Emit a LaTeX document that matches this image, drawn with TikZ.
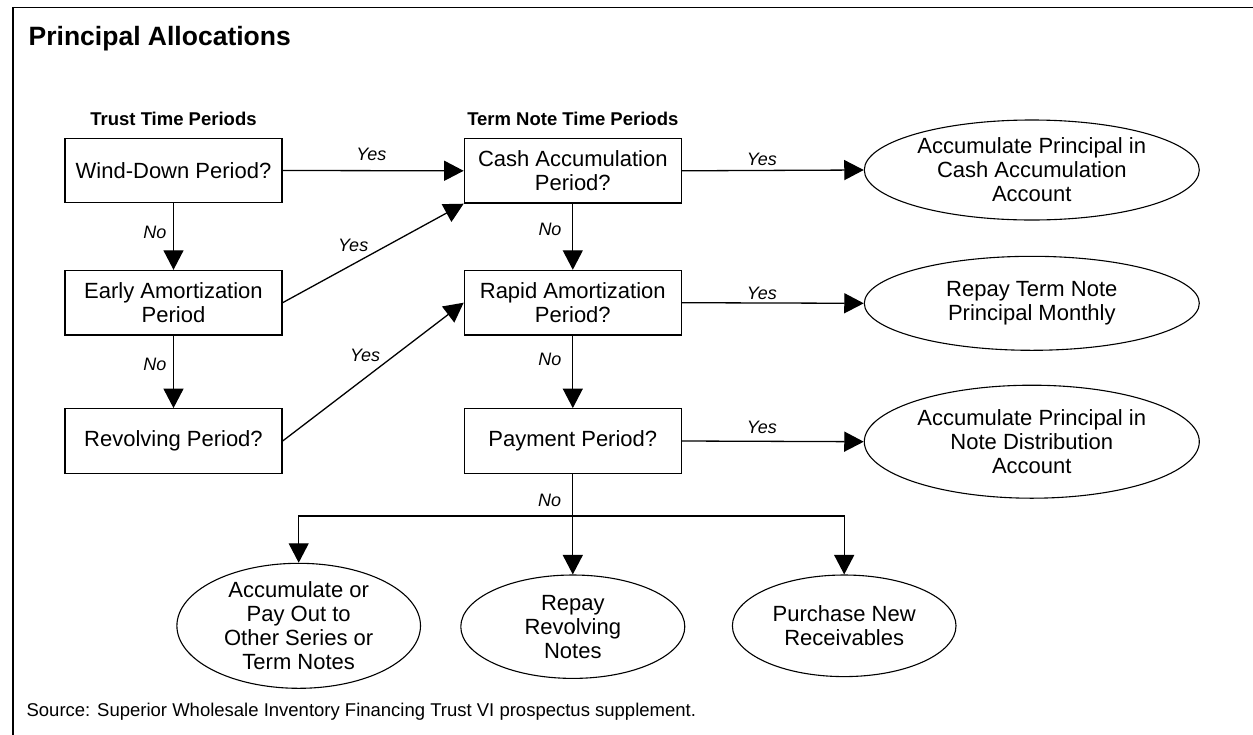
\documentclass[tikz,border=0pt]{standalone}
\usepackage{fontspec}
\setmainfont{Liberation Sans}
\usetikzlibrary{arrows.meta,shapes.geometric}
\begin{document}
\begin{tikzpicture}[x=1pt,y=-1pt,
  box/.style={draw, line width=1.3pt, minimum width=217pt, minimum height=64.5pt, align=center, inner sep=0pt, font=\fontsize{22}{24}\selectfont},
  oval/.style={draw, ellipse, line width=1.1pt, inner sep=-4pt, align=center, font=\fontsize{22}{24}\selectfont},
  arr/.style={line width=1.3pt, -{Triangle[length=19.5pt,width=20pt]}},
  lbl/.style={font=\fontsize{18}{20}\selectfont\itshape, inner sep=0pt, anchor=base},
  head/.style={font=\fontsize{18.5}{20}\selectfont\bfseries, inner sep=0pt, anchor=base}
]
\useasboundingbox (0,0) rectangle (1253,734);
\draw[line width=1.3pt] (13,745) -- (13,7.5) -- (1265,7.5);

\node[font=\fontsize{26.5}{28}\selectfont\bfseries, inner sep=0pt, anchor=base west] (title) at (28.5,45.3) {Principal Allocations};
\node[head] (h1) at (173.5,125) {Trust Time Periods};
\node[head] (h2) at (572.8,125) {Term Note Time Periods};

\node[box] (wind)  at (173.5,170.5) {Wind-Down Period?};
\node[box] (early) at (173.5,302.7) {Early Amortization\\Period};
\node[box] (revol) at (173.5,441)   {Revolving Period?};

\node[box] (cash)  at (572.8,170.8) {Cash Accumulation\\Period?};
\node[box] (rapid) at (572.8,302.7) {Rapid Amortization\\Period?};
\node[box] (pay)   at (572.8,441)   {Payment Period?};

\node[oval, minimum width=335pt, minimum height=100pt] (e1) at (1031.8,170) {Accumulate Principal in\\Cash Accumulation\\Account};
\node[oval, minimum width=335pt, minimum height=94pt]  (e2) at (1031.8,303.3) {Repay Term Note\\Principal Monthly};
\node[oval, minimum width=335pt, minimum height=113pt] (e3) at (1031.8,441.7) {Accumulate Principal in\\Note Distribution\\Account};

\node[oval, minimum width=243.6pt, minimum height=125pt] (b1) at (298.7,625.8) {Accumulate or\\Pay Out to\\Other Series or\\Term Notes};
\node[oval, minimum width=224pt, minimum height=103.4pt] (b2) at (572.8,626.7) {Repay\\Revolving\\Notes};
\node[oval, minimum width=223.6pt, minimum height=101.6pt] (b3) at (844.2,625.8) {Purchase New\\Receivables};

\coordinate (split) at (572.8,516);

\draw[arr] (wind.east) -- node[lbl, pos=0.49, yshift=10.3pt] {Yes} (cash.west);
\draw[arr] (wind.south) -- node[lbl, pos=0.536, xshift=-18.7pt] {No} (early.north);
\draw[arr] (early.east) -- node[lbl, pos=0.39, yshift=12.7pt] {Yes} (cash.south west);
\draw[arr] (early.south) -- node[lbl, pos=0.475, xshift=-18.7pt] {No} (revol.north);
\draw[arr] (revol.east) -- node[lbl, pos=0.456, yshift=16.2pt] {Yes} (rapid.west);

\draw[arr] (cash.east) -- node[lbl, pos=0.44, yshift=5pt] {Yes} (e1.west);
\draw[arr] (cash.south) -- node[lbl, pos=0.476, xshift=-22.8pt] {No} (rapid.north);
\draw[arr] (rapid.east) -- node[lbl, pos=0.44, yshift=3.5pt] {Yes} (e2.west);
\draw[arr] (rapid.south) -- node[lbl, pos=0.419, xshift=-23pt] {No} (pay.north);
\draw[arr] (pay.east) -- node[lbl, pos=0.44, yshift=7.7pt] {Yes} (e3.west);

\draw[arr] (pay.south) -- node[lbl, pos=0.326, xshift=-23.2pt] {No} (b2.north);
\draw[arr] (split) -| (b1.north);
\draw[arr] (split) -| (b3.north);

\node[font=\fontsize{18.5}{20}\selectfont, inner sep=0pt, anchor=base west] (src) at (26.4,716.7) {Source: Superior Wholesale Inventory Financing Trust VI prospectus supplement.};
\end{tikzpicture}
\end{document}
